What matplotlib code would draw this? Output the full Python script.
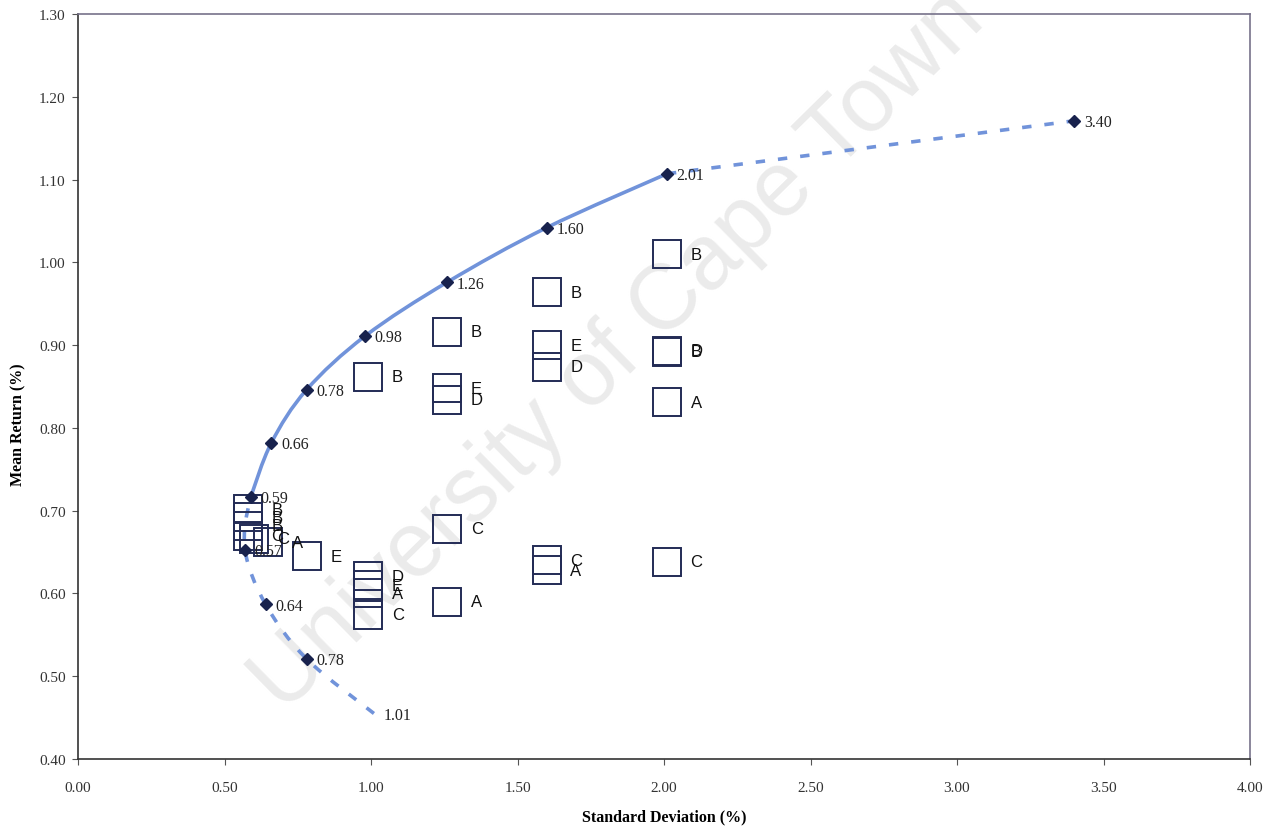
import matplotlib
matplotlib.use('Agg')
import matplotlib.pyplot as plt
from matplotlib.path import Path
from matplotlib.patches import PathPatch

# ---------------- data ----------------
frontier_sd = [1.01, 0.78, 0.64, 0.57, 0.59, 0.66, 0.78, 0.98, 1.26, 1.60, 2.01, 3.40]
frontier_mean = [0.455, 0.521, 0.587, 0.653, 0.717, 0.782, 0.846, 0.911, 0.976, 1.042, 1.107, 1.171]
frontier_labels = ['1.01', '0.78', '0.64', '0.57', '0.59', '0.66', '0.78', '0.98', '1.26', '1.60', '2.01', '3.40']
frontier_marked = [False, True, True, True, True, True, True, True, True, True, True, True]
# pieces of the frontier: (first point, last point, points drawn up to, style)
lower_piece = (0, 5, 4)     # dashed, uses 0.66 only for curvature
solid_piece = (4, 10, 10)   # solid
upper_piece = (10, 11, 11)  # dashed

sq_label = ['B', 'B', 'B', 'C', 'C', 'A', 'E',
            'B', 'D', 'E', 'A', 'C',
            'B', 'E', 'D', 'C', 'A',
            'B', 'E', 'D', 'C', 'A',
            'B', 'D', 'B', 'A', 'C']
sq_sd = [0.58, 0.58, 0.58, 0.58, 0.60, 0.65, 0.78,
         0.99, 0.99, 0.99, 0.99, 0.99,
         1.26, 1.26, 1.26, 1.26, 1.26,
         1.60, 1.60, 1.60, 1.60, 1.60,
         2.01, 2.01, 2.01, 2.01, 2.01]
sq_mean = [0.702, 0.692, 0.682, 0.670, 0.666, 0.662, 0.645,
           0.862, 0.621, 0.610, 0.600, 0.574,
           0.916, 0.848, 0.834, 0.678, 0.590,
           0.964, 0.900, 0.874, 0.640, 0.628,
           1.010, 0.893, 0.892, 0.831, 0.638]

x_ticks = [0.0, 0.5, 1.0, 1.5, 2.0, 2.5, 3.0, 3.5, 4.0]
y_ticks = [0.4, 0.5, 0.6, 0.7, 0.8, 0.9, 1.0, 1.1, 1.2, 1.3]

# ---------------- style ----------------
LINE = '#7193da'
DIAM = '#18224d'
SQ = '#232b55'
SERIF = ['Liberation Serif', 'DejaVu Serif']
SANS = ['Liberation Sans', 'DejaVu Sans']

fig = plt.figure(figsize=(12.7, 8.28), dpi=100)
ax = fig.add_axes([78 / 1270, 68 / 828, (1250 - 78) / 1270, (760 - 15) / 828])
ax.set_zorder(1)
ax.set_facecolor('none')

# watermark (behind the chart)
fig.text(0.487, 0.575, 'University of Cape Town', rotation=44.5, ha='center', va='center',
         fontsize=66, color='#ebebeb', family=SANS, zorder=0)

pts = list(zip(frontier_sd, frontier_mean))


def piece_path(lo, hi, stop):
    """Smooth Bezier path through points lo..stop, using lo..hi for tangents."""
    verts, codes = [], []
    for i in range(lo, stop):
        p0 = pts[max(i - 1, lo)]
        p1 = pts[i]
        p2 = pts[i + 1]
        p3 = pts[min(i + 2, hi)]
        c1 = (p1[0] + (p2[0] - p0[0]) / 6, p1[1] + (p2[1] - p0[1]) / 6)
        c2 = (p2[0] - (p3[0] - p1[0]) / 6, p2[1] - (p3[1] - p1[1]) / 6)
        if not verts:
            verts.append(p1)
            codes.append(Path.MOVETO)
        verts += [c1, c2, p2]
        codes += [Path.CURVE4, Path.CURVE4, Path.CURVE4]
    return Path(verts, codes)


ax.add_patch(PathPatch(piece_path(*solid_piece), fill=False, edgecolor=LINE, lw=2.6,
                       capstyle='round', zorder=2))
for piece in (lower_piece, upper_piece):
    ax.add_patch(PathPatch(piece_path(*piece), fill=False, edgecolor=LINE, lw=2.6,
                           linestyle=(0, (2.6, 3.6)), zorder=2))

for x, y, lab, m in zip(frontier_sd, frontier_mean, frontier_labels, frontier_marked):
    if m:
        ax.plot(x, y, marker='D', ms=6, color=DIAM, zorder=4)
    ax.annotate(lab, (x, y), xytext=(7, -1), textcoords='offset points', ha='left', va='center',
                fontsize=11.5, family=SERIF, color='#222222', zorder=5)

# portfolio squares
ax.plot(sq_sd, sq_mean, linestyle='none', marker='s', ms=20, mfc='none', mec=SQ, mew=1.4, zorder=3)
for x, y, lab in zip(sq_sd, sq_mean, sq_label):
    ax.annotate(lab, (x, y), xytext=(17, 0), textcoords='offset points', ha='left', va='center',
                fontsize=12, family=SANS, color='#111111', zorder=5)

ax.set_xlim(0, 4)
ax.set_ylim(0.4, 1.3)
ax.set_xticks(x_ticks)
ax.set_yticks(y_ticks)
ax.set_xticklabels([f'{v:.2f}' for v in x_ticks], family=SERIF, fontsize=11, color='#333333')
ax.set_yticklabels([f'{v:.2f}' for v in y_ticks], family=SERIF, fontsize=11, color='#333333')
ax.tick_params(direction='out', length=4, width=0.8, color='#555555')
ax.tick_params(axis='x', pad=12)
ax.tick_params(axis='y', pad=5)
for s in ['left', 'bottom']:
    ax.spines[s].set_color('#333333')
    ax.spines[s].set_linewidth(1.2)
for s in ['top', 'right']:
    ax.spines[s].set_color('#77728a')
    ax.spines[s].set_linewidth(1.2)

ax.set_xlabel('Standard Deviation (%)', family=SERIF, fontsize=11.5, fontweight='bold')
ax.set_ylabel('Mean Return (%)', family=SERIF, fontsize=11.5, fontweight='bold')
ax.xaxis.set_label_coords(0.5, -0.066)
ax.yaxis.set_label_coords(-0.044, 0.45)

fig.savefig('out.png', dpi=100, facecolor='white')
